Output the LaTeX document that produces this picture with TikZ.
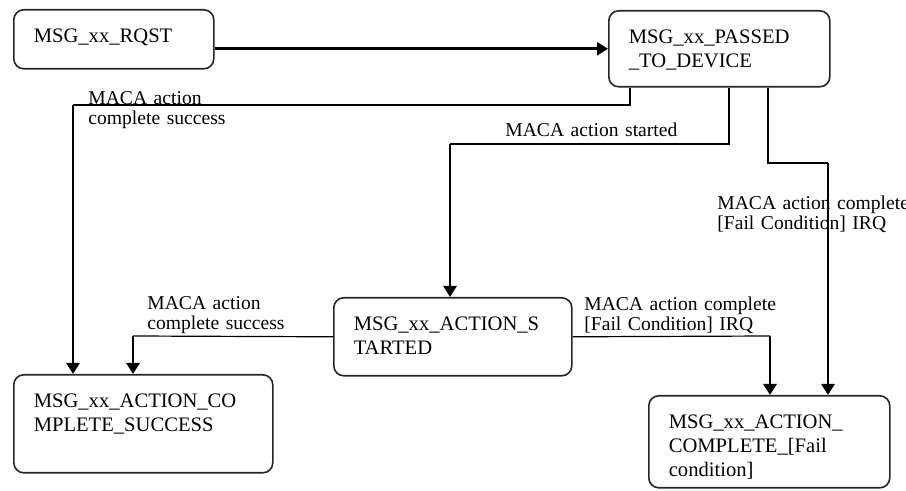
\documentclass[tikz,border=0pt]{standalone}
\usepackage{fontspec}
\setmainfont{Liberation Serif}
\usepackage{tikz}
\usetikzlibrary{arrows.meta}

\tikzset{
  state/.style={draw=black!85, line width=0.8pt, rounded corners=5pt, anchor=north west,
    inner xsep=10pt, inner ysep=0pt, text height=16.5pt, align=left,
    font=\fontsize{10.3}{12}\selectfont},
  lbl/.style={anchor=base west, inner sep=0pt, text width=110pt, align=left,
    font=\fontsize{9.8}{10}\selectfont},
  wire/.style={draw=black, line width=0.6pt},
  flow/.style={draw=black, line width=1.4pt, -{Triangle[width=6.5pt,length=5.5pt]}}
}

\begin{document}
\begin{tikzpicture}[x=0.5pt, y=-0.5pt]
		\useasboundingbox (0,0) rectangle (906,491);
		\node[state, text width=80pt, text depth=13pt] (rqst) at (13,9) {MSG\_xx\_RQST};
		\node[state, text width=90.5pt, text depth=21.5pt] (passed) at (608,10) {MSG\_xx\_PASSED\\\_TO\_DEVICE};
		\node[state, text width=99pt, text depth=22.5pt] (started) at (333,297) {MSG\_xx\_ACTION\_S\\TARTED};
		\node[state, text width=109.5pt, text depth=32.5pt] (success) at (13,374) {MSG\_xx\_ACTION\_CO\\MPLETE\_SUCCESS};
		\node[state, text width=100.5pt, text depth=29.5pt] (fail) at (648,395) {MSG\_xx\_ACTION\_\\COMPLETE\_[Fail\\condition]};

		\coordinate (p1) at (630,105);
		\coordinate (p2) at (73,105);
		\coordinate (p3) at (729,144);
		\coordinate (p4) at (450,144);
		\coordinate (p5) at (768,163);
		\coordinate (p6) at (828,163);
		\coordinate (s1) at (133,336);
		\coordinate (s2) at (770,336);

		\draw[flow] (rqst.east |- passed.west) -- (passed.west);

		\draw[wire] (passed.south -| p1) -- (p1) -- (p2);
		\draw[flow] (p2) -- (success.north -| p2);

		\draw[wire] (passed.south -| p3) -- (p3) -- (p4);
		\draw[flow] (p4) -- (started.north -| p4);

		\draw[wire] (passed.south -| p5) -- (p5) -- (p6);
		\draw[flow] (p6) -- (fail.north -| p6);

		\draw[wire] (started.west) -- (s1);
		\draw[flow] (s1) -- (success.north -| s1);

		\draw[wire] (started.east) -- (s2);
		\draw[flow] (s2) -- (fail.north -| s2);

		\node[lbl] (l1) at (88,105) {MACA action\\complete success};
		\node[lbl] (l2) at (505,137) {MACA action started};
		\node[lbl] (l3) at (717,210) {MACA action complete\\{}[Fail Condition] IRQ};
		\node[lbl] (l4) at (147,310) {MACA action\\complete success};
		\node[lbl] (l5) at (584,311) {MACA action complete\\{}[Fail Condition] IRQ};
\end{tikzpicture}
\end{document}
